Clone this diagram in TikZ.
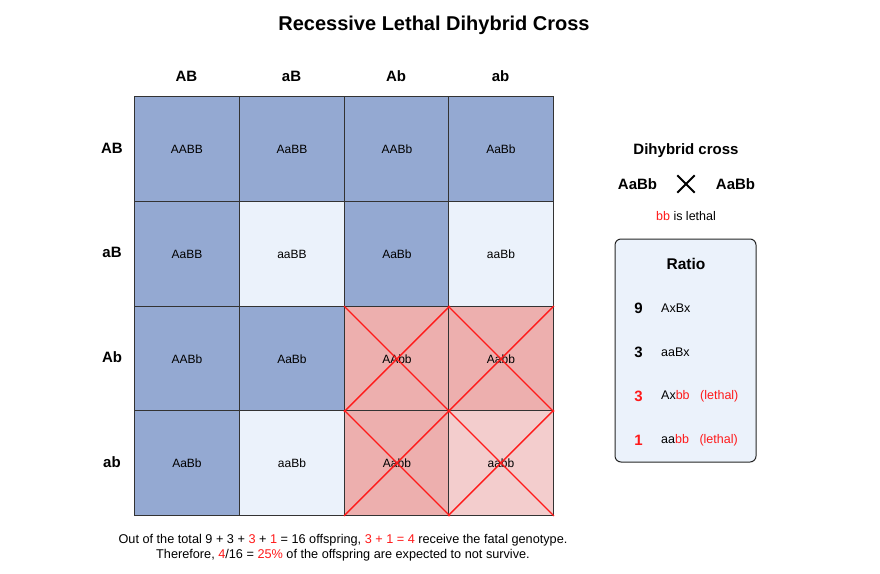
\documentclass[tikz,border=0pt]{standalone}
\usepackage{fontspec}
\setmainfont{Liberation Sans}
\definecolor{dom}{HTML}{94A9D2}
\definecolor{rec}{HTML}{EBF2FB}
\definecolor{fatal}{HTML}{EDAFAE}
\definecolor{fatallight}{HTML}{F3CDCD}
\definecolor{lethal}{HTML}{FF1A1A}
\newcommand{\rd}[1]{\textcolor{lethal}{#1}}
\tikzset{
	cell/.style = {draw = black!80, line width = 0.9pt, minimum size = 105pt, inner sep = 0pt, anchor = north west, font = \fontsize{12}{14}\selectfont},
	gamete/.style = {font = \bfseries\fontsize{15}{18}\selectfont},
	cross/.style = {draw = lethal, line width = 1.4pt},
	small/.style = {font = \fontsize{12.5}{15}\selectfont},
	count/.style = {font = \bfseries\fontsize{15}{18}\selectfont},
}
\begin{document}
\begin{tikzpicture}[x = 1pt, y = -1pt]
	\useasboundingbox [fill = white] (0,0) rectangle (880,573);
	\node [font = \bfseries\fontsize{20}{24}\selectfont] (title) at (434,25) {Recessive Lethal Dihybrid Cross};
	% gametes
	\node [gamete] (colAB) at (186.5,76) {AB};
	\node [gamete] (colaB) at (291.5,76) {aB};
	\node [gamete] (colAb) at (396,76) {Ab};
	\node [gamete] (colab) at (500.5,76) {ab};
	\node [gamete] (rowAB) at (112,148) {AB};
	\node [gamete] (rowaB) at (112,252) {aB};
	\node [gamete] (rowAb) at (112,357) {Ab};
	\node [gamete] (rowab) at (112,462) {ab};
	% punnett square
	\node [cell, fill = dom] (c11) at (134,96) {AABB};
	\node [cell, fill = dom] (c12) at (239,96) {AaBB};
	\node [cell, fill = dom] (c13) at (344,96) {AABb};
	\node [cell, fill = dom] (c14) at (448,96) {AaBb};
	\node [cell, fill = dom] (c21) at (134,201) {AaBB};
	\node [cell, fill = rec] (c22) at (239,201) {aaBB};
	\node [cell, fill = dom] (c23) at (344,201) {AaBb};
	\node [cell, fill = rec] (c24) at (448,201) {aaBb};
	\node [cell, fill = dom] (c31) at (134,306) {AABb};
	\node [cell, fill = dom] (c32) at (239,306) {AaBb};
	\node [cell, fill = fatal] (c33) at (344,306) {AAbb};
	\node [cell, fill = fatal] (c34) at (448,306) {Aabb};
	\node [cell, fill = dom] (c41) at (134,410) {AaBb};
	\node [cell, fill = rec] (c42) at (239,410) {aaBb};
	\node [cell, fill = fatal] (c43) at (344,410) {Aabb};
	\node [cell, fill = fatallight] (c44) at (448,410) {aabb};
	\foreach \c in {c33,c34,c43,c44} {
		\draw [cross] (\c.north west) -- (\c.south east);
		\draw [cross] (\c.south west) -- (\c.north east);
	}
	% the cross
	\node [font = \bfseries\fontsize{15}{18}\selectfont] (cross) at (686,151) {Dihybrid cross};
	\node [count] (mother) at (637.5,184) {AaBb};
	\node [count] (father) at (735.5,184) {AaBb};
	\node [minimum size = 17pt, inner sep = 0pt] (times) at (686,184) {};
	\draw [line width = 1.9pt] (times.north west) -- (times.south east);
	\draw [line width = 1.9pt] (times.south west) -- (times.north east);
	\node [small] (rule) at (686,216) {\rd{bb} is lethal};
	% ratio box
	\node [draw = black!85, line width = 1pt, fill = rec, rounded corners = 6pt, minimum width = 141pt, minimum height = 223pt] (ratio) at (685.5,350.5) {};
	\node [font = \bfseries\fontsize{15.5}{18}\selectfont] (rtitle) at (686,264) {Ratio};
	\node [count] (n1) at (638.5,308) {9};
	\node [count] (n2) at (638.5,352) {3};
	\node [count, text = lethal] (n3) at (638.5,396) {3};
	\node [count, text = lethal] (n4) at (638.5,440) {1};
	\node [small, anchor = west, inner sep = 0pt] (g1) at (661,308) {AxBx};
	\node [small, anchor = west, inner sep = 0pt] (g2) at (661,352) {aaBx};
	\node [small, anchor = west, inner sep = 0pt] (g3) at (661,396) {Ax\rd{bb}\hspace{10.5pt}\rd{(lethal)}};
	\node [small, anchor = west, inner sep = 0pt] (g4) at (661,440) {aa\rd{bb}\hspace{10.5pt}\rd{(lethal)}};
	% conclusion
	\node [font = \fontsize{12.7}{15}\selectfont, align = center, inner sep = 0pt] (note) at (343,547.5) {Out of the total 9 + 3 + \rd{3} + \rd{1} = 16 offspring, \rd{3 + 1 = 4} receive the fatal genotype.\\ Therefore, \rd{4}/16 = \rd{25\%} of the offspring are expected to not survive.};
\end{tikzpicture}
\end{document}
